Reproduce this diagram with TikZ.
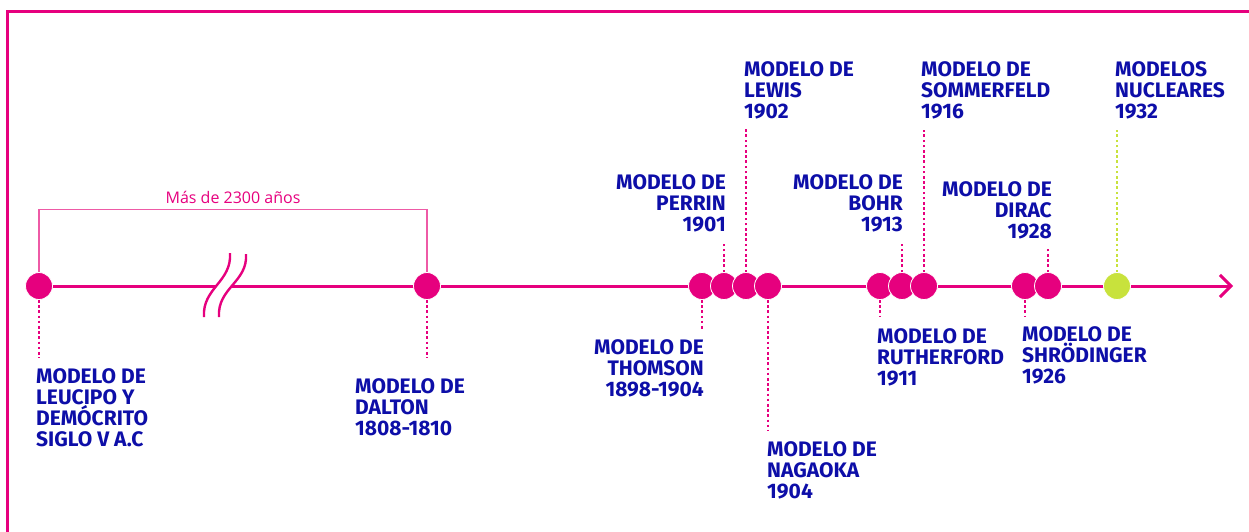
\documentclass[tikz,border=0pt]{standalone}
\usepackage{fontspec}
\usetikzlibrary{arrows.meta}
\newfontfamily\lblfont{Fira Sans}
\newfontfamily\spanfont{Open Sans}
\definecolor{fucsia}{HTML}{E6007E}
\definecolor{rosa}{HTML}{EE5AA6}
\definecolor{marino}{HTML}{0D0EA8}
\definecolor{lima}{HTML}{C8E23C}
\tikzset{
  lbl/.style={font=\lblfont\bfseries\fontsize{21}{21}\selectfont, text=marino, inner sep=0pt},
  dot/.style={circle, fill=fucsia, draw=white, line width=0.8pt, minimum size=27pt, inner sep=0pt},
  lead/.style={fucsia, line width=2.6pt, dash pattern=on 2.6pt off 2.6pt, shorten >=10pt},
  brk/.style={fucsia, line width=2.4pt}
}
\begin{document}
\begin{tikzpicture}[x=1pt,y=-1pt]
	    \useasboundingbox (0,0) rectangle (1249,531);
	    % marco
	    \draw[fucsia, line width=2.8pt] (7.5,540)--(7.5,11.3)--(1260,11.3);
	    % linea de tiempo
	    \coordinate (ini) at (39,286);
	    \coordinate (fin) at (1233,286);
	    \draw[fucsia, line width=3pt, -{Straight Barb[length=11pt,width=22pt]}] (ini)--(fin);
	    % corte
	    \fill[white] (230,253) .. controls (232,282) and (202,288) .. (204,317)
	        -- (219,317) .. controls (217,288) and (248,282) .. (246,254) -- cycle;
	    \draw[brk] (230,253) .. controls (232,282) and (202,288) .. (204,317);
	    \draw[brk] (246,254) .. controls (248,282) and (217,288) .. (219,317);
	    % puntos
	    \foreach \n/\x in {Leu/39,Dal/427,Tho/702,Per/724,Lew/746,Nag/768,Rut/880,Boh/902,Som/924,Shr/1025,Dir/1048}
	        \node[dot] (d\n) at (\x,286) {};
	    \node[dot, fill=lima] (dNuc) at (1117,286) {};
	    % rango
	    \draw[rosa, line width=1.3pt] (dLeu.north)--++(0,-62.5) -| (dDal.north);
	    \node[font=\spanfont\fontsize{16}{16}\selectfont, text=fucsia, anchor=base] (span) at (233,203) {Más de 2300 años};
	    % modelos abajo
	    \node[lbl, align=left, anchor=north west] (Leu) at (36,368) {MODELO DE\\LEUCIPO Y\\DEMÓCRITO\\SIGLO V A.C};
	    \node[lbl, align=left, anchor=north west] (Dal) at (355,378) {MODELO DE\\DALTON\\1808-1810};
	    \node[lbl, align=right, anchor=north east] (Tho) at (704,339) {MODELO DE\\THOMSON\\1898-1904};
	    \node[lbl, align=left, anchor=north west] (Nag) at (767,441) {MODELO DE\\NAGAOKA\\1904};
	    \node[lbl, align=left, anchor=north west] (Rut) at (877,328) {MODELO DE\\RUTHERFORD\\1911};
	    \node[lbl, align=left, anchor=north west] (Shr) at (1022,326) {MODELO DE\\SHRÖDINGER\\1926};
	    % modelos arriba
	    \node[lbl, align=right, anchor=south east] (Per) at (726,232) {MODELO DE\\PERRIN\\1901};
	    \node[lbl, align=left, anchor=south west] (Lew) at (744,119) {MODELO DE\\LEWIS\\1902};
	    \node[lbl, align=right, anchor=south east] (Boh) at (903,232) {MODELO DE\\BOHR\\1913};
	    \node[lbl, align=left, anchor=south west] (Som) at (921,119) {MODELO DE\\SOMMERFELD\\1916};
	    \node[lbl, align=right, anchor=south east] (Dir) at (1052,239) {MODELO DE\\DIRAC\\1928};
	    \node[lbl, align=left, anchor=south west] (Nuc) at (1115,119) {MODELOS\\NUCLEARES\\1932};
	    % guias
	    \draw[lead] (dLeu.south)--(dLeu.south |- Leu.north);
	    \draw[lead, shorten >=20pt] (dDal.south)--(dDal.south |- Dal.north);
	    \draw[lead, shorten >=9pt] (dTho.south)--(dTho.south |- Tho.north);
	    \draw[lead, shorten >=11pt] (dNag.south)--(dNag.south |- Nag.north);
	    \draw[lead, shorten >=11pt] (dRut.south)--(dRut.south |- Rut.north);
	    \draw[lead, shorten >=9pt] (dShr.south)--(dShr.south |- Shr.north);
	    \draw[lead] (dPer.north)--(dPer.north |- Per.south);
	    \draw[lead, shorten >=9pt] (dLew.north)--(dLew.north |- Lew.south);
	    \draw[lead] (dBoh.north)--(dBoh.north |- Boh.south);
	    \draw[lead, shorten >=11pt] (dSom.north)--(dSom.north |- Som.south);
	    \draw[lead, shorten >=9pt] (dDir.north)--(dDir.north |- Dir.south);
	    \draw[lead, lima, shorten >=11pt] (dNuc.north)--(dNuc.north |- Nuc.south);
	\end{tikzpicture}
\end{document}
